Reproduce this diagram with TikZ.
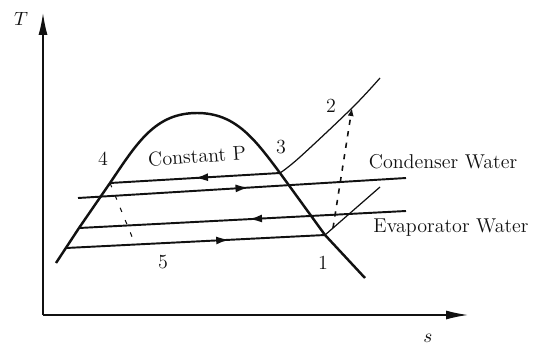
\documentclass[tikz,border=0pt]{standalone}
\usetikzlibrary{arrows.meta, decorations.markings}
\definecolor{ink}{HTML}{111111}
\tikzset{
  axis/.style={-{Latex[length=4.4mm, width=1.8mm]}, line width=0.8pt, draw=ink},
  dome/.style={line width=1.4pt, draw=ink, line join=round},
  isobar/.style={line width=0.7pt, draw=ink},
  stream/.style={line width=1.1pt, draw=ink},
  midarrow/.style={postaction={decorate}, decoration={markings,
      mark=at position #1 with {\arrow{Latex[length=2.6mm, width=1.6mm]}}}},
  compress/.style={-{Latex[length=1.6mm, width=1.2mm]}, dashed,
                   dash pattern=on 3pt off 3.6pt, line width=0.9pt, draw=ink},
  expand/.style={dash pattern=on 2.6pt off 5pt, line width=0.6pt, draw=ink},
  lbl/.style={font=\fontsize{11.4}{13}\selectfont, text=ink, inner sep=1pt},
}

\begin{document}
\begin{tikzpicture}[x=0.02cm, y=-0.02cm]
\useasboundingbox (0,0) rectangle (540,345);

% Axes
\coordinate (origin) at (43,315);
\coordinate (ttip) at (43,13);
\coordinate (stip) at (468,315);
\draw[axis] (origin) -- (ttip);
\draw[axis] (origin) -- (stip);
\node[lbl] (tlabel) at (21,19) {$T$};
\node[lbl] (slabel) at (428,338) {$s$};

% State points of the cycle
\coordinate (p1) at (325,235);
\coordinate (p2) at (352,108);
\coordinate (p3) at (280,173);
\coordinate (p4) at (110,183);
\coordinate (p5) at (135,244);
\coordinate (legD) at (66,248);
\coordinate (legC) at (79,228);
\coordinate (crit) at (197,113);

% Saturation dome
\draw[dome] (56,263) -- (legC) -- (p4)
  .. controls (137,143) and (155,113) .. (crit)
  .. controls (235,113) and (254,138) .. (p3) -- (p1) -- (365,278);

% Superheated lines at condenser and evaporator pressure
\coordinate (hiend) at (380,78);
\coordinate (loend) at (380,187);
\coordinate (p1s) at (333,228);
\draw[isobar] plot[smooth, tension=0.6] coordinates {(p3) (300,157) (p2) (hiend)};
\draw[isobar] (p1) -- (loend);

% Refrigerant processes
\draw[stream, midarrow=0.5] (p3) -- (p4);
\draw[stream, midarrow=0.63] (legD) -- (p1);
\draw[compress] (p1s) -- (p2);
\draw[expand] (p4) -- (p5);

% Water streams
\coordinate (cwl) at (78,198);
\coordinate (cwr) at (406,178);
\coordinate (ewl) at (legC);
\coordinate (ewr) at (406,211);
\draw[stream, midarrow=0.52] (cwl) -- (cwr);
\draw[stream, midarrow=0.48] (ewr) -- (ewl);

% Labels
\node[lbl] (l4) at (103,159) {4};
\node[lbl, rotate=4] (lconst) at (197,156) {Constant P};
\node[lbl] (l3) at (281,147) {3};
\node[lbl] (l2) at (331,106) {2};
\node[lbl] (lcond) at (443,162) {Condenser Water};
\node[lbl] (levap) at (451,228) {Evaporator Water};
\node[lbl] (l5) at (163,262) {5};
\node[lbl] (l1) at (323,263) {1};

\end{tikzpicture}
\end{document}
